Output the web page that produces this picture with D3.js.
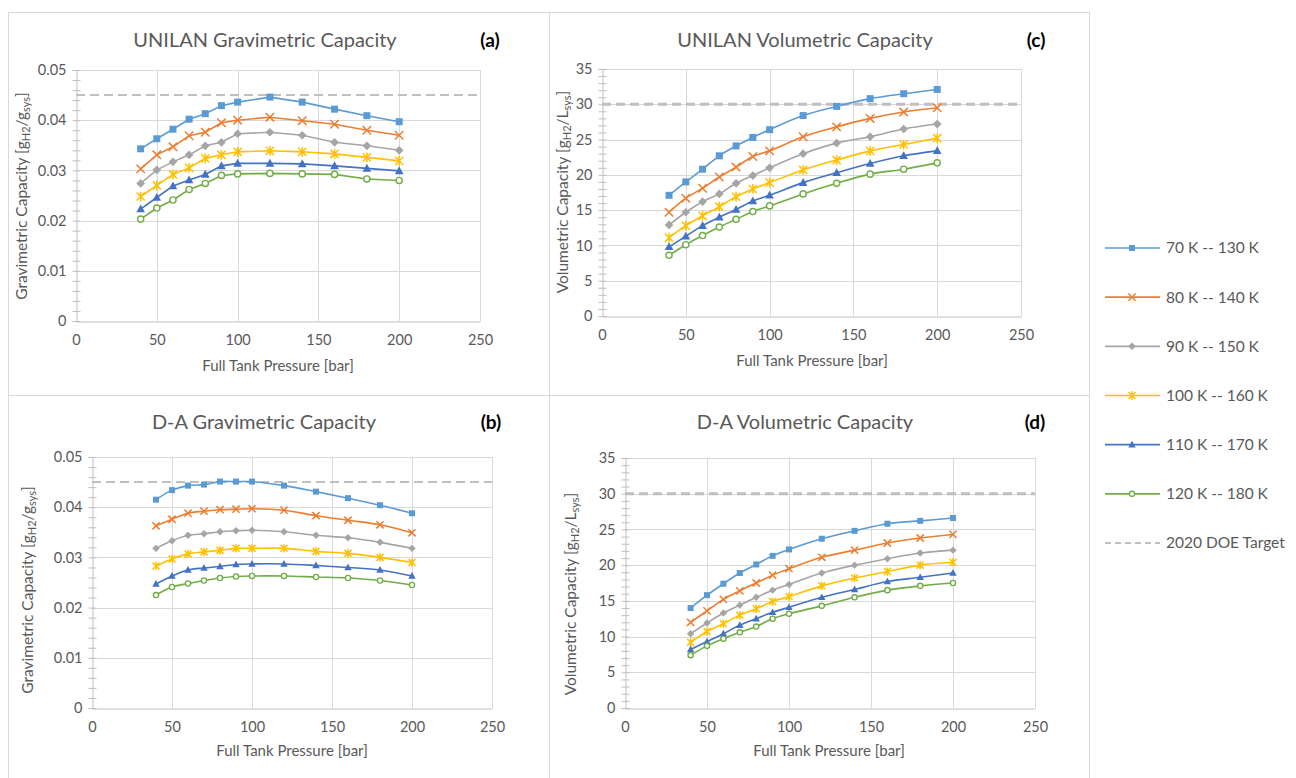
<!DOCTYPE html>
<html>
<head>
<meta charset="utf-8">
<script src="https://cdn.jsdelivr.net/npm/d3@7"></script>
<style>
  body { margin: 0; background: #fff; }
  svg { display: block; font-family: Lato, 'Open Sans', sans-serif; }
</style>
</head>
<body>
<svg id="chart" width="1296" height="778"></svg>
<script>

const pressures = [40, 50, 60, 70, 80, 90, 100, 120, 140, 160, 180, 200]

const seriesNames = ['70 K -- 130 K', '80 K -- 140 K', '90 K -- 150 K', '100 K -- 160 K', '110 K -- 170 K', '120 K -- 180 K']
const targetName = '2020 DOE Target'

// (a) UNILAN gravimetric
const unilanGrav = [
  [0.0343, 0.0363, 0.0382, 0.0402, 0.0413, 0.0429, 0.0436, 0.0446, 0.0436, 0.0422, 0.0409, 0.0397],
  [0.0303, 0.0331, 0.0347, 0.0369, 0.0376, 0.0395, 0.0400, 0.0406, 0.0399, 0.0392, 0.0380, 0.0370],
  [0.0274, 0.0301, 0.0317, 0.0331, 0.0349, 0.0356, 0.0373, 0.0376, 0.0370, 0.0356, 0.0349, 0.0340],
  [0.0248, 0.0270, 0.0292, 0.0305, 0.0324, 0.0331, 0.0337, 0.0339, 0.0337, 0.0333, 0.0326, 0.0319],
  [0.0223, 0.0246, 0.0269, 0.0281, 0.0292, 0.0309, 0.0314, 0.0314, 0.0313, 0.0309, 0.0304, 0.0299],
  [0.0203, 0.0225, 0.0241, 0.0262, 0.0274, 0.0290, 0.0293, 0.0294, 0.0293, 0.0292, 0.0283, 0.0280]
]

// (c) UNILAN volumetric
const unilanVol = [
  [17.1, 19.0, 20.8, 22.7, 24.1, 25.3, 26.4, 28.4, 29.7, 30.8, 31.5, 32.1],
  [14.7, 16.7, 18.1, 19.7, 21.1, 22.6, 23.4, 25.4, 26.8, 28.0, 28.9, 29.5],
  [12.9, 14.7, 16.2, 17.3, 18.8, 19.9, 21.0, 23.0, 24.5, 25.4, 26.5, 27.2],
  [11.1, 12.8, 14.2, 15.5, 16.9, 18.0, 18.9, 20.7, 22.1, 23.4, 24.3, 25.2],
  [9.8, 11.3, 12.8, 14.0, 15.1, 16.3, 17.1, 18.9, 20.3, 21.6, 22.7, 23.4],
  [8.6, 10.1, 11.4, 12.6, 13.7, 14.8, 15.6, 17.3, 18.8, 20.1, 20.8, 21.7]
]

// (b) D-A gravimetric
const daGrav = [
  [0.0415, 0.0434, 0.0443, 0.0445, 0.0451, 0.0451, 0.0451, 0.0443, 0.0431, 0.0418, 0.0404, 0.0388],
  [0.0363, 0.0376, 0.0388, 0.0392, 0.0395, 0.0396, 0.0397, 0.0394, 0.0383, 0.0374, 0.0365, 0.0349],
  [0.0318, 0.0333, 0.0344, 0.0347, 0.0351, 0.0353, 0.0354, 0.0351, 0.0344, 0.0339, 0.0330, 0.0318],
  [0.0283, 0.0297, 0.0307, 0.0311, 0.0314, 0.0318, 0.0318, 0.0318, 0.0312, 0.0308, 0.0300, 0.0290],
  [0.0247, 0.0263, 0.0275, 0.0279, 0.0282, 0.0286, 0.0287, 0.0287, 0.0284, 0.0280, 0.0275, 0.0263],
  [0.0225, 0.0241, 0.0248, 0.0254, 0.0259, 0.0262, 0.0263, 0.0263, 0.0261, 0.0259, 0.0254, 0.0245]
]

// (d) D-A volumetric
const daVol = [
  [14.0, 15.8, 17.4, 18.9, 20.1, 21.3, 22.2, 23.7, 24.8, 25.8, 26.2, 26.6],
  [12.0, 13.6, 15.2, 16.4, 17.5, 18.6, 19.5, 21.1, 22.1, 23.1, 23.8, 24.3],
  [10.4, 11.9, 13.3, 14.4, 15.5, 16.5, 17.3, 18.9, 20.0, 20.9, 21.7, 22.1],
  [9.2, 10.7, 11.8, 13.0, 13.9, 14.9, 15.6, 17.1, 18.2, 19.1, 20.0, 20.4],
  [8.2, 9.3, 10.4, 11.6, 12.5, 13.4, 14.1, 15.5, 16.6, 17.7, 18.3, 18.9],
  [7.4, 8.7, 9.7, 10.6, 11.4, 12.5, 13.2, 14.3, 15.5, 16.5, 17.1, 17.5]
]

const pressureTicks = [0, 50, 100, 150, 200, 250]
const gravTicks = [0, 0.01, 0.02, 0.03, 0.04, 0.05]
const volTicks = [0, 5, 10, 15, 20, 25, 30, 35]
const gravTarget = 0.045
const volTarget = 30

const colors = ['#5b9bd5', '#ed7d31', '#a5a5a5', '#ffc000', '#4472c4', '#70ad47']
const shapes = ['square', 'cross', 'diamond', 'star', 'triangle', 'circle']
const textColor = '#595959'
const gridColor = '#d9d9d9'

const svg = d3.select('#chart')

// panel frames
const frame = svg.append('g').attr('stroke', gridColor).attr('fill', 'none')
frame.append('rect').attr('x', 8.5).attr('y', 12.5).attr('width', 1081).attr('height', 790)
frame.append('line').attr('x1', 549.5).attr('x2', 549.5).attr('y1', 12).attr('y2', 778)
frame.append('line').attr('x1', 8).attr('x2', 1090).attr('y1', 395.5).attr('y2', 395.5)

function marker(g, shape, color, s) {
  if (shape === 'square') {
    g.append('rect').attr('x', -s / 2).attr('y', -s / 2).attr('width', s).attr('height', s).attr('fill', color)
  } else if (shape === 'diamond') {
    const r = s * 0.62
    g.append('path').attr('d', `M0,${-r}L${r},0L0,${r}L${-r},0Z`).attr('fill', color)
  } else if (shape === 'triangle') {
    const r = s * 0.62
    g.append('path').attr('d', `M0,${-r * 1.05}L${r},${r * 0.75}L${-r},${r * 0.75}Z`).attr('fill', color)
  } else if (shape === 'circle') {
    g.append('circle').attr('r', s / 2 - 0.4).attr('fill', '#fff').attr('stroke', color).attr('stroke-width', 1.4)
  } else if (shape === 'cross') {
    const r = s * 0.6
    g.append('path').attr('d', `M${-r},${-r}L${r},${r}M${-r},${r}L${r},${-r}`).attr('stroke', color).attr('stroke-width', 1.5)
  } else if (shape === 'star') {
    const r = s * 0.58
    g.append('path').attr('d', `M${-r},${-r}L${r},${r}M${-r},${r}L${r},${-r}M0,${-r * 1.2}L0,${r * 1.2}`).attr('stroke', color).attr('stroke-width', 1.5)
  }
}

function drawPanel(p) {
  const g = svg.append('g')
  const x = d3.scaleLinear().domain([0, 250]).range([p.x0, p.x1])
  const y = d3.scaleLinear().domain([0, p.yTicks[p.yTicks.length - 1]]).range([p.y0, p.y1])

  // gridlines
  g.append('g').attr('stroke', gridColor).attr('stroke-width', 1)
    .selectAll('line.h').data(p.yTicks.slice(1)).join('line')
    .attr('x1', p.x0).attr('x2', p.x1)
    .attr('y1', d => Math.round(y(d)) + 0.5).attr('y2', d => Math.round(y(d)) + 0.5)
  g.append('g').attr('stroke', gridColor).attr('stroke-width', 1)
    .selectAll('line.v').data(pressureTicks.slice(1)).join('line')
    .attr('x1', d => Math.round(x(d)) + 0.5).attr('x2', d => Math.round(x(d)) + 0.5)
    .attr('y1', p.y0).attr('y2', p.y1)

  // y axis with minor ticks
  const minor = d3.range(0, p.yTicks[p.yTicks.length - 1] + p.minorStep / 2, p.minorStep)
  const yAxis = g.append('g').attr('transform', `translate(${Math.round(p.x0) + 0.5},0)`)
    .call(d3.axisLeft(y).tickValues(minor).tickSize(4).tickFormat(''))
  yAxis.selectAll('.tick line').attr('stroke', '#bfbfbf').attr('x2', 4).attr('x1', -4)
  yAxis.select('.domain').attr('stroke', '#bfbfbf')
  g.append('g').attr('transform', `translate(${Math.round(p.x0) + 0.5},0)`)
    .call(d3.axisLeft(y).tickValues(p.yTicks).tickSize(0).tickPadding(10).tickFormat(d => String(d)))
    .call(a => a.select('.domain').remove())
    .selectAll('text').attr('fill', textColor).style('font-size', '14.5px').style('font-family', 'Lato')

  const xAxis = g.append('g').attr('transform', `translate(0,${Math.round(p.y0) + 0.5})`)
    .call(d3.axisBottom(x).tickValues(pressureTicks).tickSize(0).tickPadding(13))
  xAxis.select('.domain').attr('stroke', '#bfbfbf')
  xAxis.selectAll('text').attr('fill', textColor).style('font-size', '14.5px').style('font-family', 'Lato')

  // target line
  g.append('line')
    .attr('x1', p.x0).attr('x2', p.x1)
    .attr('y1', y(p.target)).attr('y2', y(p.target))
    .attr('stroke', '#bfbfbf').attr('stroke-width', p.targetWidth).attr('stroke-dasharray', '9,5')

  // series
  const line = d3.line().x((d, i) => x(pressures[i])).y(d => y(d)).curve(p.curve)
  p.data.forEach((vals, k) => {
    g.append('path').datum(vals).attr('d', line)
      .attr('fill', 'none').attr('stroke', colors[k]).attr('stroke-width', 1.6)
    vals.forEach((v, i) => {
      const m = g.append('g').attr('transform', `translate(${x(pressures[i])},${y(v)})`)
      marker(m, shapes[k], colors[k], p.ms)
    })
  })

  // titles
  g.append('text').attr('x', p.titleX).attr('y', p.titleY).attr('text-anchor', 'middle')
    .attr('fill', textColor).style('font-size', '20px').text(p.title)
  g.append('text').attr('x', p.tagX).attr('y', p.titleY).attr('text-anchor', 'middle')
    .attr('fill', '#000').style('font-size', '19px').style('font-weight', 'bold').text(p.tag)
  g.append('text').attr('x', p.xTitleX).attr('y', p.xTitleY).attr('text-anchor', 'middle')
    .attr('fill', textColor).style('font-size', '15px').text('Full Tank Pressure [bar]')

  const yt = g.append('text')
    .attr('transform', `translate(${p.yTitleX},${p.yTitleY}) rotate(-90)`)
    .attr('text-anchor', 'middle').attr('fill', textColor).style('font-size', '15.5px')
  yt.append('tspan').text(p.yLabel + ' [g')
  yt.append('tspan').attr('dy', 3).style('font-size', '11px').text('H2')
  yt.append('tspan').attr('dy', -3).text(p.unit)
  yt.append('tspan').attr('dy', 3).style('font-size', '11px').text('sys')
  yt.append('tspan').attr('dy', -3).text(']')
}

const panels = [
  { tag: '(a)', title: 'UNILAN Gravimetric Capacity', data: unilanGrav, yTicks: gravTicks, minorStep: 0.002,
    target: gravTarget, yLabel: 'Gravimetric Capacity ', unit: '/g', curve: d3.curveLinear, ms: 7,
    x0: 76, x1: 480, y0: 321, y1: 70, targetWidth: 2,
    titleX: 265, titleY: 47, tagX: 490, xTitleX: 278, xTitleY: 371, yTitleX: 27, yTitleY: 196 },
  { tag: '(c)', title: 'UNILAN Volumetric Capacity', data: unilanVol, yTicks: volTicks, minorStep: 1,
    target: volTarget, yLabel: 'Volumetric Capacity', unit: '/L', curve: d3.curveCatmullRom, ms: 7,
    x0: 602, x1: 1021, y0: 316, y1: 69, targetWidth: 3,
    titleX: 805, titleY: 47, tagX: 1036, xTitleX: 812, xTitleY: 366, yTitleX: 568, yTitleY: 192 },
  { tag: '(b)', title: 'D-A Gravimetric Capacity', data: daGrav, yTicks: gravTicks, minorStep: 0.002,
    target: gravTarget, yLabel: 'Gravimetric Capacity', unit: '/g', curve: d3.curveCatmullRom, ms: 6,
    x0: 92, x1: 492, y0: 708, y1: 457, targetWidth: 2,
    titleX: 264, titleY: 429, tagX: 491, xTitleX: 292, xTitleY: 756, yTitleX: 33, yTitleY: 590 },
  { tag: '(d)', title: 'D-A Volumetric Capacity', data: daVol, yTicks: volTicks, minorStep: 1,
    target: volTarget, yLabel: 'Volumetric Capacity', unit: '/L', curve: d3.curveCatmullRom, ms: 6,
    x0: 625, x1: 1035, y0: 708, y1: 458, targetWidth: 3,
    titleX: 805, titleY: 429, tagX: 1035, xTitleX: 829, xTitleY: 756, yTitleX: 576, yTitleY: 594 }
]

panels.forEach(drawPanel)

// legend
const legend = svg.append('g').attr('transform', 'translate(1105,0)')
const rowY = d3.scaleLinear().domain([0, 6]).range([248, 543])
seriesNames.forEach((name, k) => {
  const r = legend.append('g').attr('transform', `translate(0,${rowY(k)})`)
  r.append('line').attr('x1', 0).attr('x2', 55).attr('stroke', colors[k]).attr('stroke-width', 1.6)
  marker(r.append('g').attr('transform', 'translate(27,0)'), shapes[k], colors[k], 6)
  r.append('text').attr('x', 61).attr('dy', '0.35em').attr('fill', textColor).style('font-size', '15.5px').text(name)
})
const tr = legend.append('g').attr('transform', `translate(0,${rowY(6)})`)
tr.append('line').attr('x1', 0).attr('x2', 55).attr('stroke', '#bfbfbf').attr('stroke-width', 2).attr('stroke-dasharray', '6,4')
tr.append('text').attr('x', 61).attr('dy', '0.35em').attr('fill', textColor).style('font-size', '15.5px').text(targetName)

</script>
</body>
</html>
